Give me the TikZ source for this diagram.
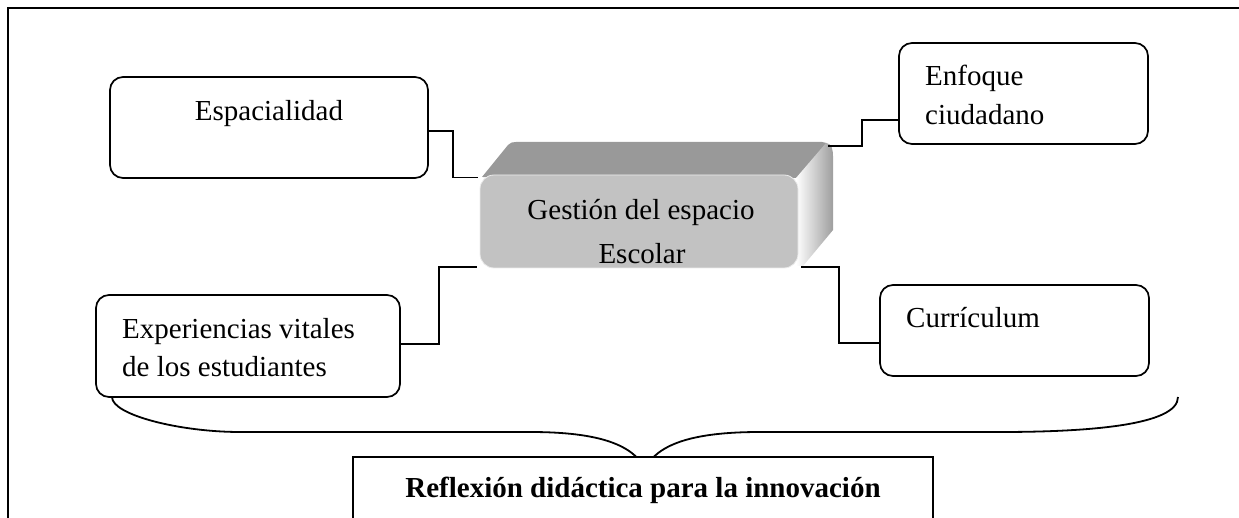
\documentclass[tikz,border=0pt]{standalone}
\usepackage{fontspec}
\setmainfont{Liberation Serif}
\usetikzlibrary{calc}
\begin{document}
\begin{tikzpicture}[x=1pt,y=-1pt,
  box/.style={draw, line width=1.7pt, rounded corners=13pt, inner sep=0pt},
  txt/.style={font=\fontsize{29}{34}\selectfont, inner sep=0pt},
  conn/.style={line width=1.8pt},
]
\useasboundingbox (0,0) rectangle (1239,518);
% outer frame
\draw[line width=2.8pt] (8,560) -- (8,8) -- (1260,8);

% brace (drawn before the bottom box)
\coordinate (bl) at (112,397);
\coordinate (br) at (1178,397);
\coordinate (tip) at (645,468);
\draw[conn] (bl) .. controls (112,415) and (180,432) .. (240,432) -- (530,432)
  .. controls (600,432) and (632,445) .. (tip)
  .. controls (658,445) and (690,432) .. (760,432) -- (1000,432)
  .. controls (1090,432) and (1178,425) .. (br);

% boxes
\node[box, minimum width=318pt, minimum height=101pt] (esp) at (269,127.5) {};
\node[box, minimum width=249pt, minimum height=101pt] (enf) at (1023.5,93.5) {};
\node[box, minimum width=269pt, minimum height=91pt] (cur) at (1014.5,330.5) {};
\node[box, minimum width=304pt, minimum height=102pt] (exp) at (248,346) {};
\node[draw, fill=white, line width=1.7pt, inner sep=0pt, minimum width=580pt, minimum height=103pt] (refl) at (643,508.5) {};

% central 3D block
\coordinate (tr) at (830,143);
\fill[black!40] (482,177) -- (508,145) to[out=50,in=180] (516,142) -- (822,142) to[out=0,in=130] (830,146) -- (798,178) -- cycle;
\shade[left color=white, right color=black!38] (796,178) -- (826,143) to[out=0,in=90] (833,156) -- (833,230) -- (803,266) -- (796,266) -- cycle;
\node[draw=black!8, line width=0.8pt, fill=black!24, rounded corners=14pt, inner sep=0pt, minimum width=318pt, minimum height=93pt] (gest) at (639,221.5) {};
\begin{scope}
\clip[rounded corners=14pt] (gest.north west) rectangle (gest.south east);
\node[txt, anchor=base] (tg1) at (641,220) {Gestión del espacio};
\node[txt, anchor=base] (tg2) at (642,264) {Escolar};
\end{scope}

% texts
\node[txt, anchor=base] (tesp) at (269,121) {Espacialidad};
\node[txt, anchor=base west] (tenf1) at (925,86) {Enfoque};
\node[txt, anchor=base west] (tenf2) at (925,125) {ciudadano};
\node[txt, anchor=base west] (tcur) at (906,328) {Currículum};
\node[txt, anchor=base west] (texp1) at (122,338) {Experiencias vitales};
\node[txt, anchor=base west] (texp2) at (122,377) {de los estudiantes};
\node[txt, anchor=base, font=\fontsize{29}{34}\selectfont\bfseries] (trefl) at (643,497) {Reflexión didáctica para la innovación};

% connectors
\draw[conn] ($(esp.east)+(0,3.5)$) -| ($(gest.north west)+(-27,3)$) -- ($(gest.north west)+(-2,3)$);
\draw[conn] ($(tr)+(-2,3)$) -| ($(enf.west)+(-36,26.5)$) -- ($(enf.west)+(0,26.5)$);
\draw[conn] ($(gest.south east)+(3,-1)$) -| ($(cur.west)+(-40,12.5)$) -- ($(cur.west)+(0,12.5)$);
\draw[conn] ($(exp.east)+(0,-2)$) -| ($(gest.south west)+(-41,-1)$) -- ($(gest.south west)+(-3,-1)$);
\end{tikzpicture}
\end{document}
